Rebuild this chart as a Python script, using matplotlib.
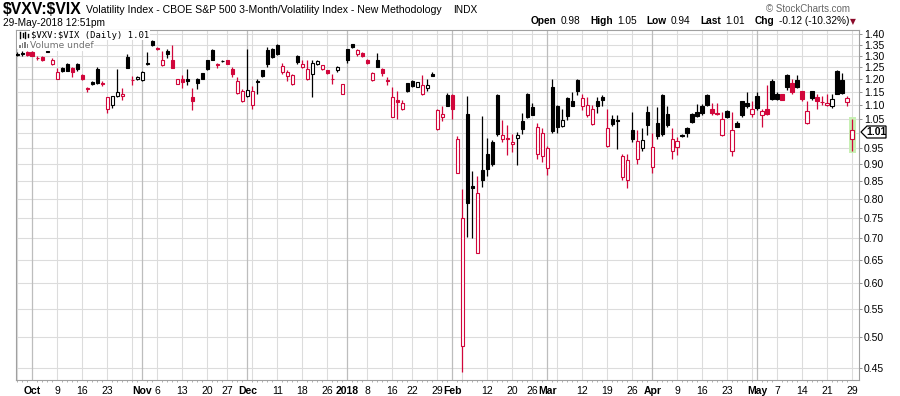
import numpy as np
import pandas as pd
import matplotlib
matplotlib.use("Agg")
import matplotlib.pyplot as plt
from matplotlib.patches import Polygon, Rectangle
from matplotlib.ticker import FixedLocator, FixedFormatter, NullLocator

plt.rcParams["text.parse_math"] = False

# trading days shown (Sep 27 2017 .. May 29 2018)
holidays = ["2017-11-23", "2017-12-25", "2018-01-01", "2018-01-15",
            "2018-02-19", "2018-03-30", "2018-05-28"]
dates = pd.bdate_range("2017-09-27", "2018-05-29")
dates = dates[~dates.isin(pd.to_datetime(holidays))]

prev_close = 1.30  # close before first visible bar

opens = [1.310, 1.310, 1.318, 1.318, 1.291, 1.293, 1.322, 1.263, 1.200, 1.247,
         1.263, 1.247, 1.266, 1.218, 1.164, 1.190, 1.243, 1.184, 1.084, 1.098,
         1.132, 1.132, 1.293, 1.199, 1.200, 1.197, 1.270, 1.367, 1.336, 1.261,
         1.322, 1.280, 1.180, 1.203, 1.203, 1.129, 1.203, 1.224, 1.280, 1.326,
         1.262, 1.279, 1.280, 1.242, 1.146, 1.113, 1.135, 1.100, 1.192, 1.239,
         1.326, 1.330, 1.349, 1.230, 1.215, 1.180, 1.297, 1.252, 1.200, 1.222,
         1.263, 1.242, 1.239, 1.202, 1.237, 1.143, 1.330, 1.353, 1.310, 1.312,
         1.283, 1.197, 1.283, 1.242, 1.196, 1.057, 1.119, 1.086, 1.183, 1.194,
         1.169, 1.140, 1.165, 1.223, 1.014, 1.055, 1.136, 1.138, 0.874, 0.485,
         1.066, 0.835, 0.664, 0.882, 0.930, 0.970, 1.136, 0.979, 0.982, 0.962,
         0.983, 1.042, 1.140, 1.091, 0.930, 0.923, 0.887, 1.168, 1.097, 1.024,
         1.125, 1.113, 1.197, 1.096, 1.063, 1.030, 1.116, 1.128, 0.955, 1.049,
         1.046, 0.862, 0.853, 1.010, 0.915, 0.950, 1.075, 0.892, 1.034, 1.138,
         1.066, 0.940, 0.953, 0.992, 1.018, 1.065, 1.075, 1.095, 1.138, 1.086,
         1.070, 0.994, 1.078, 0.940, 1.034, 1.113, 1.108, 1.066, 1.133, 1.063,
         1.086, 1.194, 1.143, 1.140, 1.218, 1.183, 1.197, 1.153, 1.034, 1.153,
         1.129, 1.112, 1.100, 1.096, 1.235, 1.197, 1.112, 0.980]
highs = [1.315, 1.320, 1.320, 1.320, 1.297, 1.297, 1.330, 1.290, 1.245, 1.250,
         1.269, 1.250, 1.270, 1.220, 1.170, 1.192, 1.250, 1.195, 1.130, 1.135,
         1.242, 1.164, 1.310, 1.212, 1.213, 1.235, 1.317, 1.370, 1.340, 1.320,
         1.330, 1.349, 1.202, 1.218, 1.242, 1.164, 1.205, 1.226, 1.283, 1.330,
         1.267, 1.283, 1.283, 1.252, 1.210, 1.160, 1.330, 1.173, 1.203, 1.240,
         1.340, 1.333, 1.355, 1.267, 1.239, 1.220, 1.305, 1.280, 1.280, 1.280,
         1.283, 1.260, 1.240, 1.222, 1.255, 1.182, 1.332, 1.355, 1.330, 1.315,
         1.285, 1.230, 1.312, 1.245, 1.210, 1.170, 1.153, 1.119, 1.185, 1.197,
         1.190, 1.218, 1.200, 1.230, 1.085, 1.096, 1.146, 1.140, 0.990, 0.826,
         1.133, 0.880, 0.864, 1.060, 0.983, 0.976, 1.140, 1.045, 1.028, 0.995,
         1.003, 1.069, 1.146, 1.108, 1.036, 1.016, 0.955, 1.200, 1.100, 1.084,
         1.129, 1.150, 1.203, 1.143, 1.129, 1.100, 1.129, 1.136, 1.084, 1.063,
         1.063, 0.932, 0.932, 1.075, 1.010, 1.016, 1.094, 1.001, 1.091, 1.142,
         1.094, 1.016, 0.985, 0.995, 1.022, 1.069, 1.102, 1.105, 1.142, 1.108,
         1.108, 1.075, 1.080, 1.075, 1.040, 1.116, 1.150, 1.113, 1.150, 1.084,
         1.177, 1.200, 1.148, 1.142, 1.222, 1.200, 1.218, 1.155, 1.113, 1.155,
         1.143, 1.135, 1.143, 1.143, 1.239, 1.228, 1.135, 1.050]
lows = [1.300, 1.300, 1.300, 1.298, 1.283, 1.278, 1.315, 1.260, 1.200, 1.230,
        1.234, 1.210, 1.236, 1.198, 1.150, 1.178, 1.180, 1.172, 1.070, 1.087,
        1.130, 1.120, 1.245, 1.177, 1.198, 1.195, 1.258, 1.345, 1.326, 1.255,
        1.290, 1.245, 1.180, 1.164, 1.177, 1.081, 1.160, 1.200, 1.240, 1.280,
        1.245, 1.274, 1.262, 1.210, 1.143, 1.110, 1.128, 1.084, 1.143, 1.210,
        1.252, 1.290, 1.305, 1.222, 1.194, 1.177, 1.266, 1.248, 1.199, 1.128,
        1.260, 1.240, 1.222, 1.180, 1.230, 1.140, 1.270, 1.335, 1.297, 1.295,
        1.263, 1.193, 1.250, 1.215, 1.177, 1.055, 1.048, 1.081, 1.148, 1.170,
        1.167, 1.138, 1.153, 1.212, 1.010, 1.040, 1.094, 1.049, 0.874, 0.444,
        0.703, 0.700, 0.664, 0.833, 0.864, 0.893, 0.990, 0.970, 0.928, 0.938,
        0.897, 0.996, 1.053, 1.063, 0.914, 0.907, 0.867, 1.001, 1.000, 1.022,
        1.045, 1.094, 1.138, 1.081, 1.057, 1.028, 1.071, 1.096, 0.952, 1.024,
        0.946, 0.853, 0.828, 0.970, 0.900, 0.940, 0.993, 0.874, 0.978, 0.990,
        1.022, 0.915, 0.928, 0.985, 0.985, 1.036, 1.055, 1.063, 1.094, 1.063,
        1.063, 0.990, 1.051, 0.926, 1.020, 1.057, 1.087, 1.055, 1.081, 1.020,
        1.063, 1.119, 1.119, 1.117, 1.157, 1.140, 1.164, 1.113, 1.031, 1.120,
        1.084, 1.100, 1.096, 1.089, 1.140, 1.143, 1.095, 0.940]
closes = [1.305, 1.310, 1.303, 1.300, 1.289, 1.281, 1.318, 1.283, 1.232, 1.234,
          1.236, 1.230, 1.241, 1.200, 1.162, 1.180, 1.184, 1.182, 1.129, 1.132,
          1.148, 1.141, 1.245, 1.196, 1.210, 1.231, 1.266, 1.349, 1.332, 1.283,
          1.310, 1.245, 1.200, 1.190, 1.194, 1.113, 1.184, 1.201, 1.242, 1.281,
          1.258, 1.277, 1.263, 1.221, 1.192, 1.153, 1.157, 1.155, 1.189, 1.214,
          1.266, 1.296, 1.310, 1.255, 1.230, 1.218, 1.274, 1.263, 1.242, 1.267,
          1.279, 1.258, 1.224, 1.200, 1.250, 1.180, 1.280, 1.340, 1.326, 1.300,
          1.270, 1.227, 1.252, 1.226, 1.193, 1.129, 1.109, 1.108, 1.153, 1.173,
          1.187, 1.177, 1.178, 1.214, 1.081, 1.066, 1.096, 1.085, 0.980, 0.750,
          0.789, 0.830, 0.815, 0.853, 0.886, 0.901, 0.996, 0.993, 0.979, 0.970,
          0.992, 1.015, 1.057, 1.063, 1.022, 1.000, 0.950, 1.008, 1.022, 1.045,
          1.060, 1.096, 1.154, 1.125, 1.100, 1.086, 1.096, 1.117, 1.016, 1.031,
          1.043, 0.925, 0.912, 0.978, 0.973, 0.975, 1.028, 0.953, 0.990, 0.996,
          1.028, 0.979, 0.974, 0.989, 1.001, 1.039, 1.060, 1.069, 1.098, 1.070,
          1.068, 1.047, 1.057, 1.010, 1.022, 1.063, 1.094, 1.084, 1.087, 1.078,
          1.066, 1.122, 1.123, 1.119, 1.170, 1.149, 1.168, 1.122, 1.078, 1.126,
          1.113, 1.110, 1.108, 1.122, 1.143, 1.145, 1.126, 1.010]

# x axis labels
tick_dates = ["2017-10-02", "2017-10-09", "2017-10-16", "2017-10-23", "2017-11-01",
              "2017-11-06", "2017-11-13", "2017-11-20", "2017-11-27", "2017-12-01",
              "2017-12-11", "2017-12-18", "2017-12-26", "2018-01-02", "2018-01-08",
              "2018-01-16", "2018-01-22", "2018-01-29", "2018-02-01", "2018-02-12",
              "2018-02-20", "2018-02-26", "2018-03-01", "2018-03-12", "2018-03-19",
              "2018-03-26", "2018-04-02", "2018-04-09", "2018-04-16", "2018-04-23",
              "2018-05-01", "2018-05-07", "2018-05-14", "2018-05-21", "2018-05-29"]
tick_labels = ["Oct", "9", "16", "23", "Nov", "6", "13", "20", "27", "Dec",
               "11", "18", "26", "2018", "8", "16", "22", "29", "Feb", "12",
               "20", "26", "Mar", "12", "19", "26", "Apr", "9", "16", "23",
               "May", "7", "14", "21", "29"]
y_ticks = [0.45, 0.50, 0.55, 0.60, 0.65, 0.70, 0.75, 0.80, 0.85, 0.90, 0.95,
           1.05, 1.10, 1.15, 1.20, 1.25, 1.30, 1.35, 1.40]

RED = "#d1063b"
BLACK = "#000000"
W, H = 900, 396


def fx(x):
    return x / W


def fy(y):
    return 1 - y / H


o = np.array(opens); hi = np.array(highs); lo = np.array(lows); c = np.array(closes)
n = len(c)
x = np.arange(n) - 3  # index 0 = Oct 2
pc = np.concatenate([[prev_close], c[:-1]])
col = np.where(c >= pc, BLACK, RED)
hollow = c > o

fig = plt.figure(figsize=(9, 3.96), dpi=100)
ax = fig.add_axes([fx(16), fy(380), (859 - 16) / W, (380 - 30) / H])
ax.set_yscale("log")
ax.set_ylim(0.4316, 1.419)
ax.set_xlim(-3.26, 165.34)

# grid
for v in np.arange(0.45, 1.401, 0.05):
    ax.axhline(v, color="#dcdcdc", lw=0.8, zorder=0)
pos = {d: i - 3 for i, d in enumerate(dates)}
prev = None
for d in dates:
    new_month = prev is None or d.month != prev.month
    new_week = prev is None or d.weekday() < prev.weekday() or (d - prev).days > 3
    if new_month and prev is not None:
        ax.axvline(pos[d], color="#bdbdbd", lw=0.9, zorder=0)
    elif new_week:
        ax.axvline(pos[d], color="#dcdcdc", lw=0.8, zorder=0)
    prev = d

# highlight of the latest bar
ax.add_patch(Rectangle((x[-1] - 0.7, lo[-1] * 0.995), 1.4, hi[-1] * 1.005 - lo[-1] * 0.995,
                       facecolor="#c8f0b4", edgecolor="none", zorder=1))

# candles
ax.vlines(x, lo, hi, colors=col, lw=0.9, zorder=2)
bottom = np.minimum(o, c)
height = np.maximum(np.abs(c - o), 0.0015)
face = np.where(hollow, "white", col)
ax.bar(x, height, bottom=bottom, width=0.72, color=face, edgecolor=col,
       linewidth=0.8, zorder=3)

# axes styling
for s in ax.spines.values():
    s.set_color("#a0a0a0")
    s.set_linewidth(0.8)
ax.yaxis.tick_right()
ax.yaxis.set_major_locator(FixedLocator(y_ticks))
ax.yaxis.set_major_formatter(FixedFormatter(["%.2f" % t for t in y_ticks]))
ax.yaxis.set_minor_locator(NullLocator())
ax.tick_params(axis="y", which="major", length=2, width=0.6, color="#808080",
               labelsize=7.5, pad=1.5)
tick_pos = [pos[pd.Timestamp(t)] for t in tick_dates]
ax.set_xticks(tick_pos)
ax.set_xticklabels(tick_labels)
ax.set_xticks(x, minor=True)
ax.tick_params(axis="x", which="major", length=0, labelsize=7.5, pad=4)
ax.tick_params(axis="x", which="minor", length=1.5, width=0.5, color="#909090")
for lab in ax.get_xticklabels():
    lab.set_fontfamily("Liberation Sans")
    if not lab.get_text().isdigit() or lab.get_text() == "2018":
        lab.set_fontweight("bold")
for lab in ax.get_yticklabels():
    lab.set_fontfamily("Liberation Sans")

# last value marker on the price axis
pts = [(861, 132), (867, 126), (886, 126), (886, 138), (867, 138)]
fig.patches.append(Polygon([(fx(a), fy(b)) for a, b in pts], closed=True,
                           transform=fig.transFigure, facecolor="white",
                           edgecolor="black", lw=0.9, zorder=5))
fig.text(fx(876.5), fy(132.3), "1.01", ha="center", va="center", fontsize=7.5,
         fontweight="bold", family="Liberation Sans", zorder=6)

# legend inside the chart
fig.text(fx(31), fy(35), "$VXV:$VIX (Daily) 1.01", fontsize=6.4,
         family="DejaVu Sans Mono", va="center", ha="left",
         bbox=dict(facecolor="white", edgecolor="none", pad=0.6), zorder=4)
fig.text(fx(30), fy(45.5), "Volume undef", fontsize=6.6, color="#707070",
         family="DejaVu Sans", va="center", ha="left",
         bbox=dict(facecolor="white", edgecolor="none", pad=0.6), zorder=4)
fig.patches.append(Rectangle((fx(17), fy(49)), 12 / W, 18 / H, transform=fig.transFigure,
                             facecolor="white", edgecolor="none", zorder=3))
for xs, y0, y1 in [(20, 32, 38), (22.5, 33, 37), (25, 32, 38), (27.5, 33.5, 37)]:
    fig.lines.append(plt.Line2D([fx(xs), fx(xs)], [fy(y0), fy(y1)],
                                transform=fig.transFigure, color="black", lw=1.0, zorder=5))
for xs, hgt in [(20, 3), (22.5, 5), (25, 6), (27.5, 4)]:
    fig.patches.append(Rectangle((fx(xs - 0.9), fy(48)), 1.8 / W, hgt / H,
                                 transform=fig.transFigure, facecolor="#808080",
                                 edgecolor="none", zorder=5))

# header
fig.text(fx(3), fy(9.5), "$VXV:$VIX", fontsize=11.3, fontweight="bold",
         family="Liberation Sans", va="center", ha="left")
fig.text(fx(86), fy(10), "Volatility Index - CBOE S&P 500 3-Month/Volatility Index - New Methodology",
         fontsize=7.6, family="Liberation Sans", va="center", ha="left")
fig.text(fx(453), fy(10), "INDX", fontsize=7.3, family="Liberation Sans",
         va="center", ha="left")
fig.text(fx(3), fy(23), "29-May-2018 12:51pm", fontsize=7.3,
         family="Liberation Sans", va="center", ha="left")
fig.text(fx(850), fy(8.5), "\u00a9 StockCharts.com", fontsize=7, color="#666666",
         family="Liberation Sans", va="center", ha="right")

# quote line, laid out left to right then right-aligned at x=849
quote = [("Open", True), ("0.98", False), ("High", True), ("1.05", False),
         ("Low", True), ("0.94", False), ("Last", True), ("1.01", False),
         ("Chg", True), ("-0.12 (-10.32%)", False)]
renderer = fig.canvas.get_renderer()
parts = []
for s, b in quote:
    t = fig.text(0, fy(21.5), s, fontsize=7.3, family="Liberation Sans",
                 fontweight="bold" if b else "normal", va="center", ha="left")
    parts.append((t, t.get_window_extent(renderer).width, b))
xp = 0.0
lefts = []
for t, w, b in parts:
    lefts.append(xp)
    xp += w + (4 if b else 10)
total = xp - 10
for (t, w, b), lx in zip(parts, lefts):
    t.set_x(fx(849 - total + lx))
fig.text(fx(853), fy(22), "\u25bc", fontsize=5.5, color="#8b0a2a",
         family="DejaVu Sans", va="center", ha="center")

fig.savefig("out.png", dpi=100)
